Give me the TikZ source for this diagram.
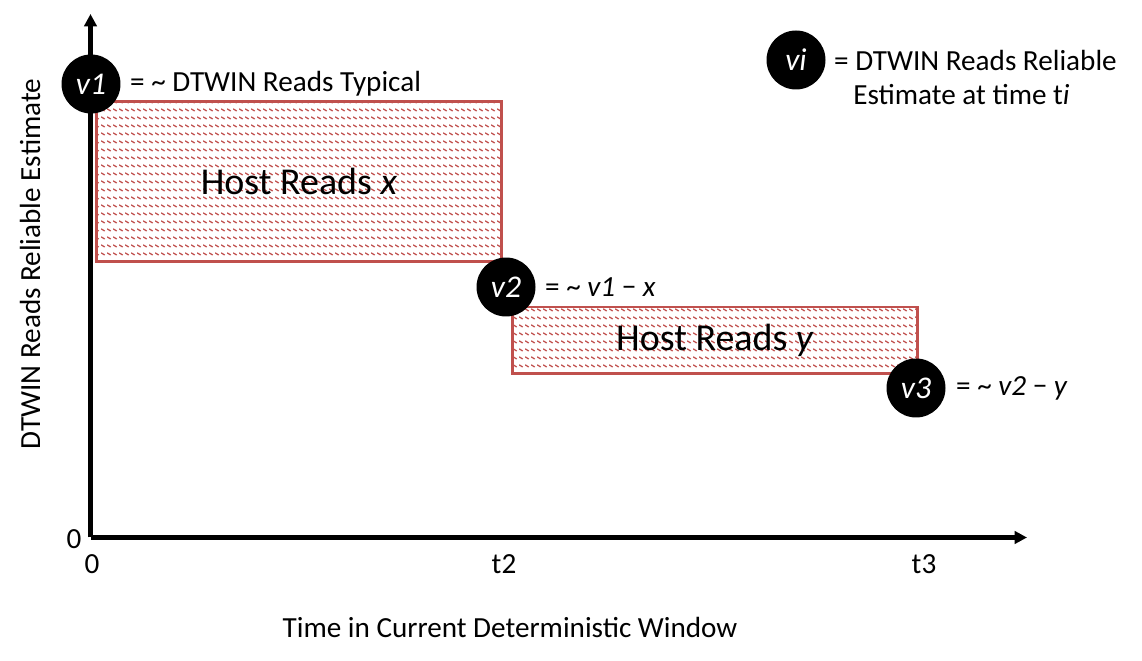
\documentclass[tikz,border=0pt]{standalone}
\usepackage{fontspec}
\setmainfont{Carlito}
\usepackage{xcolor}
\definecolor{ink}{HTML}{000000}
\definecolor{readred}{HTML}{C0504D}
\usetikzlibrary{arrows.meta,patterns.meta,positioning}

% small slanted dashes, one row every 7.5px of the picture
\tikzdeclarepattern{
  name=readhatch,
  type=uncolored,
  bounding box={(0pt,0pt) and (3.4pt,4.27pt)},
  tile size={(3.4pt,4.27pt)},
  code={\draw[line width=0.75pt] (0.1pt,1.9pt) -- (2.1pt,0.6pt);}
}

\begin{document}
\begin{tikzpicture}[x=0.02cm, y=-0.02cm, font=\fontsize{16.6}{20}\selectfont]
  % one unit = one pixel of the 1142 x 661 sheet, y runs down
  \useasboundingbox (0,0) rectangle (1142,661);
  \tikzset{
    axis/.style={line width=2.4pt, draw=ink, -{Triangle[width=7pt,length=7pt]}},
    readbox/.style={draw=readred, line width=1.7pt, pattern=readhatch,
                    pattern color=readred, inner sep=0pt,
                    minimum width=8.12cm, font=\fontsize{21.6}{26}\selectfont},
    estdot/.style={circle, fill=ink, minimum size=1.18cm, inner sep=0pt,
                   text=white, font=\fontsize{18}{21}\selectfont\itshape},
    estnote/.style={anchor=west, inner sep=0pt, text=ink},
    ticklab/.style={inner sep=0pt, text=ink}}
  \newcommand{\mns}{\symbol{"2212}}

  % ---------- axes ----------
  \coordinate (origin) at (90.5,537.5);
  \coordinate (ytop)   at (90.5,14);
  \coordinate (xend)   at (1027,537.5);
  \draw[axis] (origin) -- (ytop);
  \draw[axis] (origin) -- (xend);

  \node[ticklab] (yzero) at (74,539) {0};
  \node[ticklab] (xzero) at (92,564) {0};
  \node[ticklab] (tick2) at (504,564) {t2};
  \node[ticklab] (tick3) at (924,564) {t3};

  \node[ticklab] (xtitle) at (510,627) {Time in Current Deterministic Window};
  \node[ticklab, rotate=90] (ytitle) at (30,264) {DTWIN Reads Reliable Estimate};

  % ---------- the two read blocks ----------
  \node[readbox, minimum height=3.22cm] (readx) at (299,181.5) {Host Reads \textit{x}};
  \node[readbox, minimum height=1.34cm] (ready) at (715,340.5) {Host Reads \textit{y}};

  % ---------- estimates, drawn last so they sit on the lines ----------
  \node[estdot] (v1) at (91,84)  {v1};
  \node[estdot] (v2) at (506,287) {v2};
  \node[estdot] (v3) at (916,388) {v3};
  \node[estdot] (vi) at (796,60)  {vi};

  \node[estnote, right=0.18cm of v1] (v1note) {= \textasciitilde{} DTWIN Reads Typical};
  \node[estnote, right=0.18cm of v2] (v2note) {= \textasciitilde{} \textit{v1} \mns{} \textit{x}};
  \node[estnote, right=0.2cm of v3] (v3note) {= \textasciitilde{} \textit{v2} \mns{} \textit{y}};

  % key, top right
  \node[estnote, right=0.16cm of vi] (vinote) {= DTWIN Reads Reliable};
  \node[estnote] (vinote2) at (853,95) {Estimate at time t\textit{i}};
\end{tikzpicture}
\end{document}
